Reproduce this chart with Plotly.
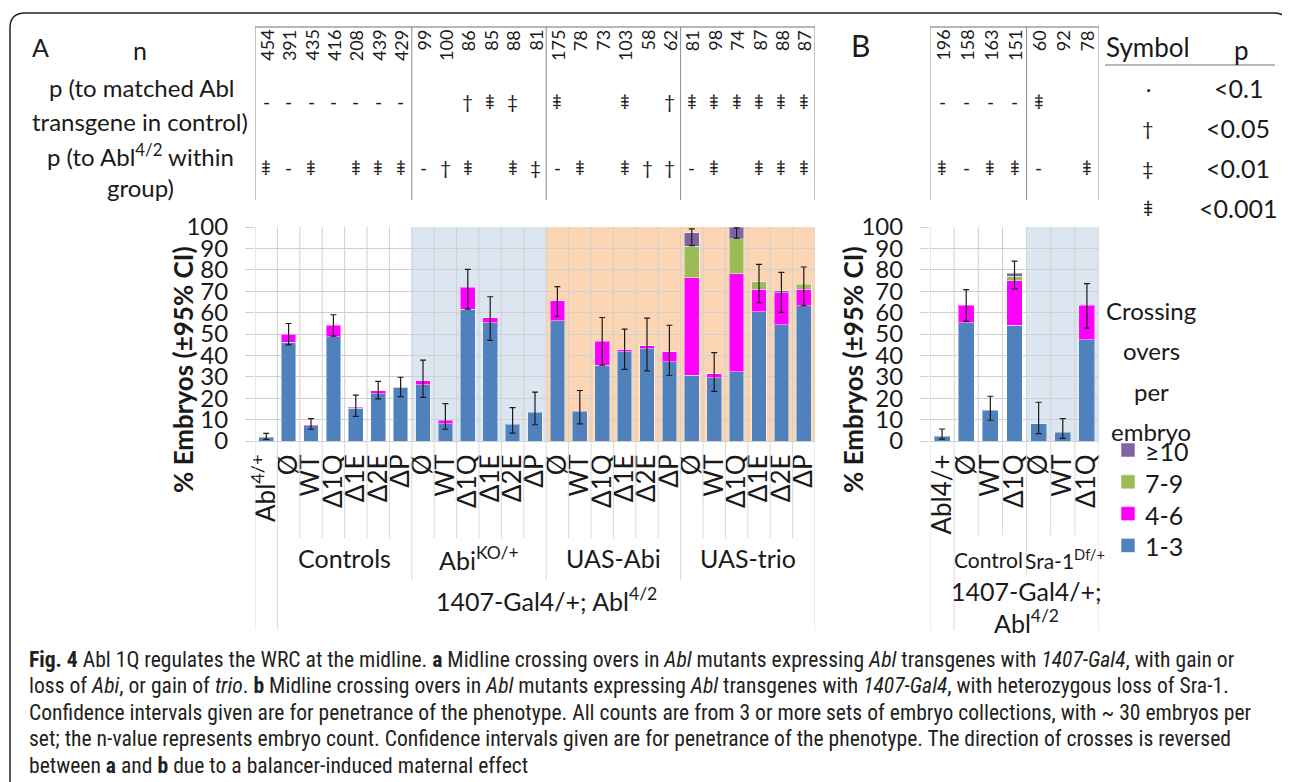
import plotly.graph_objects as go

W, H = 1290, 782
OFF = 8  # page body margin offset
FONT = "Lato, 'Open Sans', sans-serif"
CAPFONT = "'Liberation Sans Narrow', 'Roboto Condensed', Roboto, sans-serif"
TXT = "#1a1a1a"
T3 = "⹋"  # triple dagger

# ---------------- data ----------------
cats_a = ["Abl<sup>4/+</sup>"] + ["Ø", "WT", "Δ1Q", "Δ1E", "Δ2E", "ΔP"] * 4
groups_a = ["Controls", "Abi<sup>KO/+</sup>", "UAS-Abi", "UAS-trio"]
n_a = [454, 391, 435, 416, 208, 439, 429, 99, 100, 86, 85, 88, 81,
       175, 78, 73, 103, 58, 62, 81, 98, 74, 87, 88, 87]
p1_a = ["-"] * 7 + ["", "", "†", T3, "‡", ""] + [T3, "", "", T3, "", "†"] + [T3] * 6
p2_a = [T3, "-", T3, "", T3, T3, T3] + ["-", "†", T3, "", T3, "‡"] + \
       ["-", T3, "", T3, "†", "†"] + ["-", T3, "", T3, T3, T3]
blue_a = [1.7, 46.2, 7.2, 48.7, 15.4, 22.0, 25.1, 26.4, 8.1, 61.6, 55.2, 7.8, 13.4,
          56.3, 13.9, 35.4, 41.7, 43.1, 37.1, 30.7, 29.5, 32.3, 60.5, 54.3, 63.2]
mag_a = [0, 3.6, 0.3, 5.3, 0.4, 1.6, 0.3, 1.8, 1.7, 10.2, 2.4, 0, 0,
         9.2, 0, 11.1, 0.9, 1.5, 4.7, 45.6, 2.0, 45.9, 10.5, 15.0, 7.8]
green_a = [0] * 19 + [14.7, 0, 16.3, 3.4, 0, 2.2]
purple_a = [0] * 19 + [6.2, 0, 5.5, 0, 0.9, 0]
ci_lo_a = [0.8, 44.9, 5.5, 49.0, 11.5, 19.7, 20.7, 20.4, 5.5, 61.6, 47.0, 3.7, 7.6,
           58.3, 8.0, 35.4, 33.5, 32.8, 30.6, 91.3, 23.2, 94.8, 64.6, 60.1, 63.2]
ci_hi_a = [3.6, 54.9, 10.5, 59.0, 21.4, 27.9, 29.8, 37.8, 17.5, 80.2, 67.4, 15.6, 22.8,
           72.1, 23.6, 57.7, 52.3, 57.4, 54.1, 99.1, 41.3, 99.6, 82.5, 78.8, 81.3]

cats_b = ["Abl4/+", "Ø", "WT", "Δ1Q", "Ø", "WT", "Δ1Q"]
groups_b = ["Control", "Sra-1<sup>Df/+</sup>"]
n_b = [196, 158, 163, 151, 60, 92, 78]
p1_b = ["-", "-", "-", "-", T3, "", ""]
p2_b = [T3, "-", T3, T3, "-", "", T3]
blue_b = [2.3, 55.2, 14.4, 54.0, 8.0, 4.1, 47.4]
mag_b = [0, 8.3, 0, 21.0, 0, 0, 16.1]
green_b = [0, 0, 0, 1.9, 0, 0, 0]
purple_b = [0, 0, 0, 1.6, 0, 0, 0]
ci_lo_b = [0.9, 55.9, 9.7, 71.1, 3.4, 1.2, 52.7]
ci_hi_b = [5.6, 70.7, 20.9, 84.1, 18.1, 10.5, 73.5]

series_names = ["1-3", "4-6", "7-9", "≥10"]
series_colors = ["#4f81bd", "#ff00ff", "#9bbb59", "#8064a2"]
sym_table = [("·", "<0.1"), ("†", "<0.05"), ("‡", "<0.01"), (T3, "<0.001")]


def px(x):
    return (x - OFF) / W


def py(y):
    return 1 - (y - OFF) / H


fig = go.Figure()


def add_panel(xa, ya, series, lo, hi):
    xs = list(range(len(series[0])))
    for vals, name, col in zip(series, series_names, series_colors):
        fig.add_trace(go.Bar(
            x=xs, y=[v if v else None for v in vals], name=name, width=0.66,
            marker=dict(color=col, line=dict(color="rgba(255,255,255,0.45)", width=1)),
            xaxis=xa, yaxis=ya, showlegend=False))
    tot = [sum(s[i] for s in series) for i in xs]
    fig.add_trace(go.Scatter(
        x=xs, y=tot, mode="markers", marker=dict(size=1, color="rgba(0,0,0,0)"),
        error_y=dict(type="data", symmetric=False,
                     array=[h - t for h, t in zip(hi, tot)],
                     arrayminus=[t - l for t, l in zip(tot, lo)],
                     color="#1a1a1a", thickness=1.2, width=3),
        xaxis=xa, yaxis=ya, showlegend=False))


add_panel("x", "y", [blue_a, mag_a, green_a, purple_a], ci_lo_a, ci_hi_a)
add_panel("x2", "y2", [blue_b, mag_b, green_b, purple_b], ci_lo_b, ci_hi_b)

shapes = []
ann = []


def vline(xref, x, y0, y1, color="#d9d9d9", width=1):
    shapes.append(dict(type="line", xref=xref, yref="paper", x0=x, x1=x,
                       y0=py(y0), y1=py(y1), line=dict(color=color, width=width)))


def text(x, y, s, size=22, xref="paper", angle=0, xanchor="center", yanchor="middle",
         family=FONT, color=TXT, align="center"):
    ann.append(dict(x=x if xref != "paper" else px(x), y=py(y), xref=xref, yref="paper",
                    text=s, showarrow=False, textangle=angle, xanchor=xanchor,
                    yanchor=yanchor, align=align,
                    font=dict(family=family, size=size, color=color)))


# backgrounds
shapes.append(dict(type="rect", xref="x", yref="y", x0=6.5, x1=12.5, y0=0, y1=100,
                   fillcolor="#dce6f1", line=dict(width=0), layer="below"))
shapes.append(dict(type="rect", xref="x", yref="y", x0=12.5, x1=24.5, y0=0, y1=100,
                   fillcolor="#fcd5b4", line=dict(width=0), layer="below"))
shapes.append(dict(type="rect", xref="x2", yref="y2", x0=3.5, x1=6.5, y0=0, y1=100,
                   fillcolor="#dce6f1", line=dict(width=0), layer="below"))
# vertical gridlines in plots
for k in range(26):
    shapes.append(dict(type="line", xref="x", yref="y", x0=k - 0.5, x1=k - 0.5, y0=0, y1=100,
                       line=dict(color="#d0d0d0", width=1), layer="below"))
for k in range(8):
    shapes.append(dict(type="line", xref="x2", yref="y2", x0=k - 0.5, x1=k - 0.5, y0=0, y1=100,
                       line=dict(color="#d0d0d0", width=1), layer="below"))

# category axis separators A
for k in range(26):
    b = k - 0.5
    if b in (-0.5, 0.5, 24.5):
        vline("x", b, 441, 630)
    elif b in (6.5, 12.5, 18.5):
        vline("x", b, 441, 580)
    else:
        vline("x", b, 441, 538)
for k in range(8):
    b = k - 0.5
    if b in (-0.5, 0.5, 6.5):
        vline("x2", b, 441, 630)
    elif b == 3.5:
        vline("x2", b, 441, 575)
    else:
        vline("x2", b, 441, 535)

# group labels
for g, c in zip(groups_a, [3.5, 9.5, 15.5, 21.5]):
    text(c, 558, g, size=25, xref="x")
text(12.5, 599, "1407-Gal4/+; Abl<sup>4/2</sup>", size=25, xref="x")
text(1.93, 559, groups_b[0], size=21, xref="x2")
text(5.1, 559, groups_b[1], size=21, xref="x2")
text(3.5, 591, "1407-Gal4/+;", size=25, xref="x2")
text(3.5, 621, "Abl<sup>4/2</sup>", size=25, xref="x2")

# tables
for b in (-0.5, 6.5, 12.5, 18.5, 24.5):
    vline("x", b, 27, 200, color="#8a8a8a")
for b in (-0.5, 3.5, 6.5):
    vline("x2", b, 27, 200, color="#8a8a8a")
for xr, x0, x1 in (("x", -0.5, 24.5), ("x2", -0.5, 6.5)):
    shapes.append(dict(type="line", xref=xr, yref="paper", x0=x0, x1=x1, y0=py(27), y1=py(27),
                       line=dict(color="#707070", width=1)))

for xr, ns, p1, p2 in (("x", n_a, p1_a, p2_a), ("x2", n_b, p1_b, p2_b)):
    for i, (n, a, b) in enumerate(zip(ns, p1, p2)):
        text(i, 28, str(n), size=18, xref=xr, angle=-90, yanchor="top")
        if a:
            text(i, 101, a, size=19, xref=xr)
        if b:
            text(i, 168, b, size=19, xref=xr)

# left labels
text(40, 47, "A", size=25)
text(140, 50, "n", size=25)
text(142, 88, "p (to matched Abl", size=24)
text(140, 122, "transgene in control)", size=24)
text(140, 155, "p (to Abl<sup>4/2</sup> within", size=24)
text(140, 188, "group)", size=24)
text(860, 45, "B", size=30)

# symbol table
text(1148, 47, "Symbol", size=26)
text(1241, 50, "p", size=26)
shapes.append(dict(type="line", xref="paper", yref="paper", x0=px(1105), x1=px(1275),
                   y0=py(65), y1=py(65), line=dict(color="#707070", width=1)))
for j, (s, p) in enumerate(sym_table):
    yy = 88 + 40 * j
    text(1148, yy, s, size=20)
    text(1238, yy, p, size=25)

# y titles
text(183, 370, "<b>% Embryos (±95% CI)</b>", size=26, angle=-90)
text(853, 370, "<b>% Embryos (±95% CI)</b>", size=26, angle=-90)

# series legend
for j, line in enumerate(["Crossing", "overs", "per", "embryo"]):
    text(1151, 310 + 40.5 * j, line, size=24)
for j, (name, col) in enumerate(zip(series_names[::-1], series_colors[::-1])):
    yc = 450 + 31.8 * j
    shapes.append(dict(type="rect", xref="paper", yref="paper", x0=px(1121), x1=px(1135),
                       y0=py(yc + 7), y1=py(yc - 7), fillcolor=col,
                       line=dict(color="rgba(255,255,255,0.5)", width=1)))
    text(1143, yc + 1, name, size=25, xanchor="left")

# caption
cap = [
    "<b>Fig. 4</b> Abl 1Q regulates the WRC at the midline. <b>a</b> Midline crossing overs in <i>Abl</i> mutants expressing <i>Abl</i> transgenes with <i>1407-Gal4</i>, with gain or",
    "loss of <i>Abi</i>, or gain of <i>trio</i>. <b>b</b> Midline crossing overs in <i>Abl</i> mutants expressing <i>Abl</i> transgenes with <i>1407-Gal4</i>, with heterozygous loss of Sra-1.",
    "Confidence intervals given are for penetrance of the phenotype. All counts are from 3 or more sets of embryo collections, with ~ 30 embryos per",
    "set; the n-value represents embryo count. Confidence intervals given are for penetrance of the phenotype. The direction of crosses is reversed",
    "between <b>a</b> and <b>b</b> due to a balancer-induced maternal effect",
]
for j, c in enumerate(cap):
    text(27, 659 + 26.5 * j, c, size=21.6, xanchor="left", family=CAPFONT, color="#231f20")

# outer frame
fr = (f"M {px(10)},{py(800)} L {px(10)},{py(28)} Q {px(10)},{py(13)} {px(25)},{py(13)} "
      f"L {px(1274)},{py(13)} Q {px(1289)},{py(13)} {px(1289)},{py(28)} L {px(1289)},{py(800)}")
shapes.append(dict(type="path", xref="paper", yref="paper", path=fr,
                   line=dict(color="#222222", width=1.5)))

yax = dict(range=[0, 100], dtick=10, gridcolor="#d0d0d0", gridwidth=1, ticks="outside",
           ticklen=9, tickcolor="#d0d0d0", tickfont=dict(family=FONT, size=24, color=TXT),
           zeroline=False, showline=False, domain=[py(441), py(227)], ticklabelstandoff=12,
           automargin=False)
xax = dict(tickangle=-90, tickfont=dict(family=FONT, size=26, color=TXT), showgrid=False,
           zeroline=False, showline=True, linecolor="#d0d0d0", ticks="", ticklabelstandoff=2,
           automargin=False)

fig.update_layout(
    template="none",
    width=W, height=H, margin=dict(l=0, r=0, t=0, b=0, pad=0, autoexpand=False), autosize=False,
    paper_bgcolor="white", plot_bgcolor="rgba(0,0,0,0)", barmode="stack",
    xaxis=dict(xax, domain=[px(255), px(815)], range=[-0.5, 24.5], tickvals=list(range(25)),
               ticktext=cats_a, anchor="y"),
    yaxis=dict(yax, anchor="x"),
    xaxis2=dict(xax, domain=[px(930), px(1099)], range=[-0.5, 6.5], tickvals=list(range(7)),
                ticktext=cats_b, anchor="y2"),
    yaxis2=dict(yax, anchor="x2"),
    shapes=shapes, annotations=ann, showlegend=False,
)

fig.write_html("out.html")
